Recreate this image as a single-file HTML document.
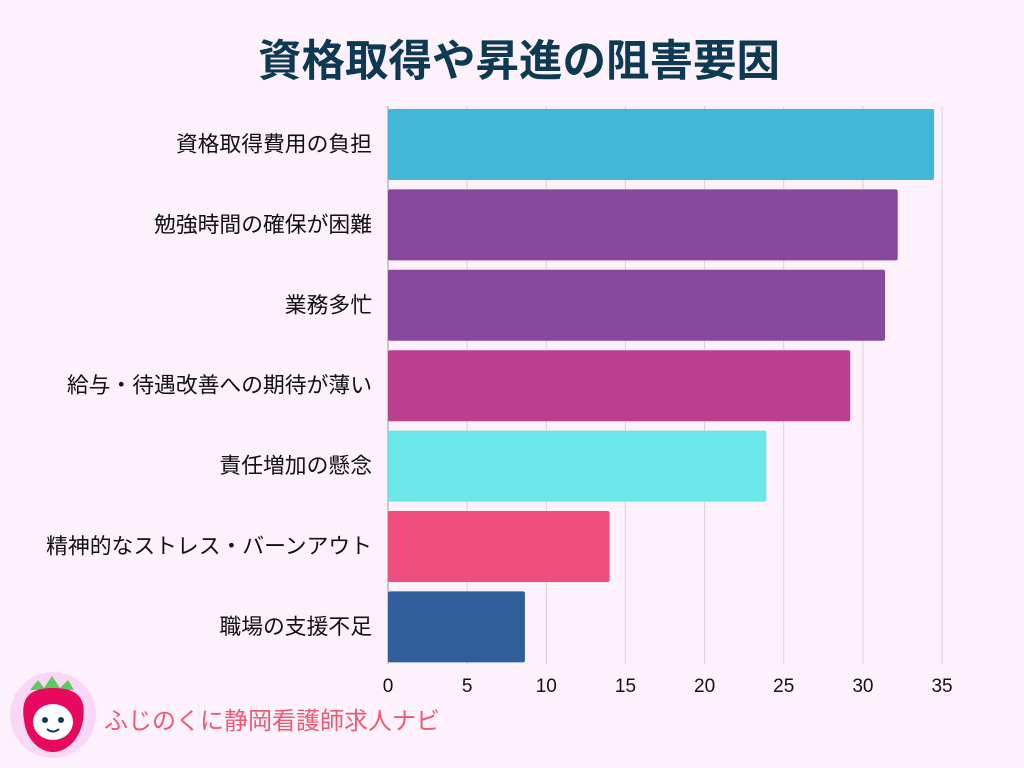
<!DOCTYPE html>
<html><head><meta charset="utf-8">
<style>
html,body{margin:0;padding:0;background:#fdf2fc;}
svg{display:block;font-family:"Liberation Sans","Noto Sans CJK JP",sans-serif;}
</style></head>
<body>
<svg id="chart" width="1024" height="768" viewBox="0 0 1024 768" xmlns="http://www.w3.org/2000/svg">
<rect width="1024" height="768" fill="#fdf2fc"/>
<text x="519" y="76" text-anchor="middle" font-size="43.5" font-weight="bold" fill="#0d3a52">資格取得や昇進の阻害要因</text>
<g id="grid"></g>
<g id="bars"></g>
<g id="ylabels"></g>
<g id="xticks"></g>
<g>
<circle cx="53" cy="715" r="43" fill="#fbd7f7"/>
<path d="M30 690 l8 -10 l6 8 l8 -12 l8 12 l8 -8 l6 10 z" fill="#5ec95e"/>
<path d="M53 688 C80 688 86 700 83 720 C80 740 66 752 53 752 C40 752 26 740 24 720 C21 700 27 688 53 688 z" fill="#e8095f"/>
<ellipse cx="53" cy="722" rx="20" ry="18" fill="#fff"/>
<circle cx="45" cy="720" r="3" fill="#173a52"/><circle cx="61" cy="720" r="3" fill="#173a52"/>
<path d="M47 729 q6 5 12 0" stroke="#173a52" stroke-width="2" fill="none"/>
<text x="104" y="729" font-size="24" fill="#ec5a72">ふじのくに静岡看護師求人ナビ</text>
</g>
</svg>
<script>
const categories=["資格取得費用の負担","勉強時間の確保が困難","業務多忙","給与・待遇改善への期待が薄い","責任増加の懸念","精神的なストレス・バーンアウト","職場の支援不足"];
const values=[34.5,32.2,31.4,29.2,23.9,14.0,8.65];
const colors=["#42b8d8","#86479c","#86479c","#bb3f8c","#6be6e9","#ee4d7e","#2f5e9a"];
const tickValues=[0,5,10,15,20,25,30,35];
const NS="http://www.w3.org/2000/svg";
const x0=388,pxPerUnit=15.83,top0=109,pitch=80.4,barH=71;
function xs(v){return x0+v*pxPerUnit;}
function ys(i){return top0+i*pitch;}
function mk(tag,attrs,parent){const e=document.createElementNS(NS,tag);for(const k in attrs)e.setAttribute(k,attrs[k]);parent.appendChild(e);return e;}
const grid=document.getElementById('grid'),bars=document.getElementById('bars'),yl=document.getElementById('ylabels'),xt=document.getElementById('xticks');
tickValues.forEach(t=>{
  const l=mk('line',{x1:xs(t),x2:xs(t),y1:106,y2:664,stroke:t===0?'#999':'#d9d0dc','stroke-width':1},grid);
  
  
  const tx=mk('text',{x:xs(t),y:692,'text-anchor':'middle','font-size':19,fill:'#111'},xt);
  tx.textContent=t;
  
  
});
categories.forEach((c,i)=>{
  const r=mk('rect',{x:x0,y:ys(i),width:xs(values[i])-x0,height:barH,fill:colors[i],rx:2},bars);
  
  
  const t=mk('text',{x:372,y:ys(i)+barH/2+7,'text-anchor':'end','font-size':21.8,fill:'#111'},yl);
  t.textContent=c;
  
  
});
</script>
</body></html>
